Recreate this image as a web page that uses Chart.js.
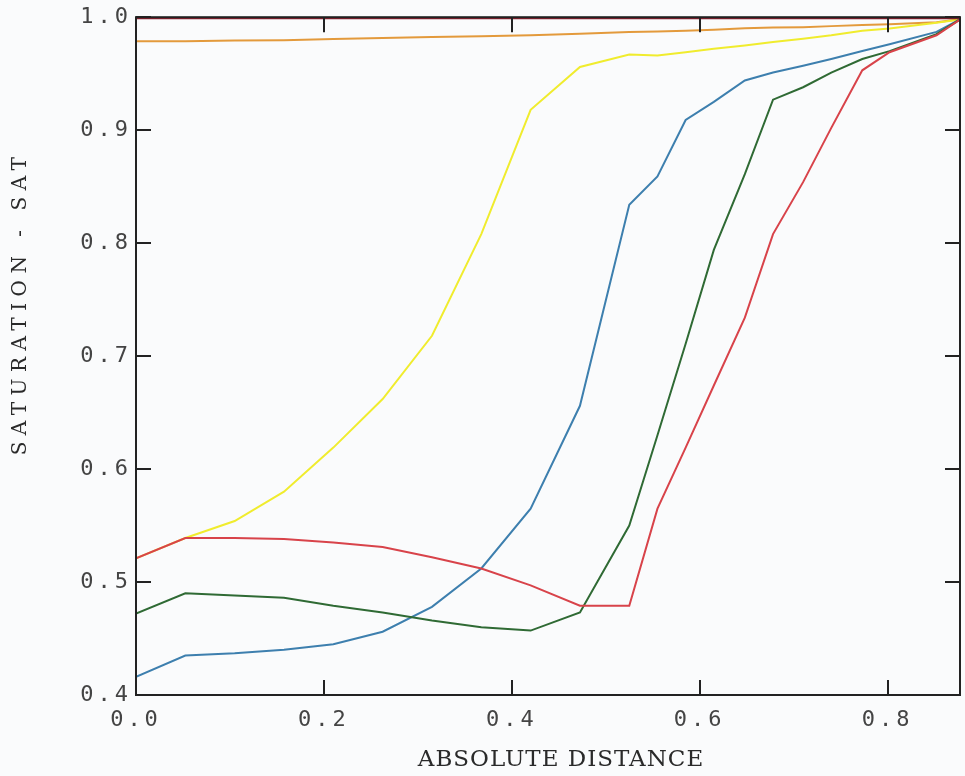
<!DOCTYPE html>
<html>
<head>
<meta charset="utf-8">
<title>Saturation vs absolute distance</title>
<script src="https://cdn.jsdelivr.net/npm/chart.js@4.4.1/dist/chart.umd.min.js"></script>
<style>
  html, body { margin: 0; padding: 0; background: #fafbfc; }
  #satChart { display: block; }
</style>
</head>
<body>
<canvas id="satChart" width="965" height="776"></canvas>
<script>
// sample positions along the profile
const distance = [0, 0.0525, 0.105, 0.1575, 0.21, 0.2625, 0.315, 0.3675, 0.42, 0.4725, 0.525,
  0.555, 0.585, 0.615, 0.648, 0.678, 0.71, 0.74, 0.773, 0.802, 0.852, 0.877];

const satDarkRed = [0.999, 0.999, 0.999, 0.999, 0.999, 0.999, 0.999, 0.999, 0.999, 0.999, 0.999,
  0.999, 0.999, 0.999, 0.999, 0.999, 0.999, 0.999, 0.999, 0.999, 0.999, 0.999];
const satOrange = [0.9788, 0.9788, 0.9793, 0.9797, 0.9806, 0.9815, 0.9824, 0.9832, 0.9841, 0.9854, 0.9868,
  0.9874, 0.9881, 0.9890, 0.9903, 0.9908, 0.9912, 0.9921, 0.9930, 0.9938, 0.9956, 0.9982];
const satYellow = [0.521, 0.539, 0.554, 0.580, 0.619, 0.662, 0.718, 0.808, 0.918, 0.956, 0.967,
  0.966, 0.969, 0.972, 0.975, 0.978, 0.981, 0.984, 0.988, 0.990, 0.995, 0.998];
const satBlue = [0.416, 0.435, 0.437, 0.440, 0.445, 0.456, 0.478, 0.512, 0.565, 0.656, 0.834,
  0.859, 0.909, 0.925, 0.944, 0.951, 0.957, 0.963, 0.970, 0.976, 0.987, 0.998];
const satGreen = [0.472, 0.490, 0.488, 0.486, 0.479, 0.473, 0.466, 0.460, 0.457, 0.473, 0.550,
  0.630, 0.711, 0.794, 0.861, 0.927, 0.938, 0.951, 0.963, 0.970, 0.985, 0.998];
const satRed = [0.521, 0.539, 0.539, 0.538, 0.535, 0.531, 0.522, 0.512, 0.497, 0.479, 0.479,
  0.565, 0.619, 0.674, 0.734, 0.808, 0.854, 0.902, 0.953, 0.969, 0.984, 0.998];

const xTicks = [0, 0.2, 0.4, 0.6, 0.8];
const yTicks = [0.4, 0.5, 0.6, 0.7, 0.8, 0.9, 1.0];

const series = [
  { values: satDarkRed, color: '#8a1f2e' },
  { values: satRed, color: '#d8434a' },
  { values: satGreen, color: '#2f6a34' },
  { values: satBlue, color: '#3d7fae' },
  { values: satYellow, color: '#f0ec2e' },
  { values: satOrange, color: '#e39a3c' }
];

const INK = '#222';
const TICK_LEN = 15;

// paper background + letter spacing for the tick labels
const paperPlugin = {
  id: 'paper',
  beforeDraw(chart) {
    const ctx = chart.ctx;
    ctx.save();
    ctx.fillStyle = '#fafbfc';
    ctx.fillRect(0, 0, chart.width, chart.height);
    ctx.restore();
    ctx.letterSpacing = '4px';
  }
};

// box frame, inward ticks on all four sides, axis titles
const framePlugin = {
  id: 'frame',
  afterDraw(chart) {
    const { ctx, chartArea: a, scales } = chart;
    ctx.save();
    ctx.letterSpacing = '0px';
    ctx.strokeStyle = INK;
    ctx.lineWidth = 2;
    ctx.strokeRect(a.left, a.top, a.right - a.left, a.bottom - a.top);

    ctx.beginPath();
    xTicks.forEach(v => {
      const px = Math.round(scales.x.getPixelForValue(v));
      ctx.moveTo(px, a.bottom); ctx.lineTo(px, a.bottom - TICK_LEN);
      ctx.moveTo(px, a.top); ctx.lineTo(px, a.top + TICK_LEN);
    });
    yTicks.forEach(v => {
      const py = Math.round(scales.y.getPixelForValue(v));
      ctx.moveTo(a.left, py); ctx.lineTo(a.left + TICK_LEN, py);
      ctx.moveTo(a.right, py); ctx.lineTo(a.right - TICK_LEN, py);
    });
    ctx.stroke();

    ctx.fillStyle = '#2a2a2a';
    ctx.textAlign = 'center';
    ctx.textBaseline = 'middle';
    ctx.font = '23px "DejaVu Serif", serif';
    ctx.letterSpacing = '1px';
    ctx.fillText('ABSOLUTE DISTANCE', 561, 760);

    ctx.translate(21, 306);
    ctx.rotate(-Math.PI / 2);
    ctx.font = '20px "DejaVu Serif", serif';
    ctx.letterSpacing = '6.5px';
    ctx.fillText('SATURATION - SAT', 3, 0);
    ctx.restore();
  }
};

new Chart(document.getElementById('satChart'), {
  type: 'line',
  data: {
    datasets: series.map(s => ({
      data: distance.map((d, i) => ({ x: d, y: s.values[i] })),
      borderColor: s.color,
      borderWidth: 2,
      pointRadius: 0,
      tension: 0,
      fill: false
    }))
  },
  options: {
    responsive: false,
    animation: false,
    devicePixelRatio: 1,
    layout: { padding: { top: 15, right: 5, left: 0, bottom: 0 } },
    plugins: { legend: { display: false }, tooltip: { enabled: false } },
    scales: {
      x: {
        type: 'linear',
        min: 0,
        max: 0.877,
        afterBuildTicks: scale => { scale.ticks = xTicks.map(v => ({ value: v })); },
        afterFit: scale => { scale.height = 81; },
        grid: { display: false, drawTicks: false },
        border: { display: false },
        ticks: {
          padding: 12,
          color: '#444',
          font: { family: '"DejaVu Sans Mono", monospace', size: 22 },
          maxRotation: 0,
          callback: v => v.toFixed(1)
        }
      },
      y: {
        min: 0.4,
        max: 1.0,
        afterBuildTicks: scale => { scale.ticks = yTicks.map(v => ({ value: v })); },
        afterFit: scale => { scale.width = 136; },
        grid: { display: false, drawTicks: false },
        border: { display: false },
        ticks: {
          padding: 4,
          color: '#444',
          font: { family: '"DejaVu Sans Mono", monospace', size: 22 },
          callback: v => v.toFixed(1)
        }
      }
    }
  },
  plugins: [paperPlugin, framePlugin]
});
</script>
</body>
</html>
